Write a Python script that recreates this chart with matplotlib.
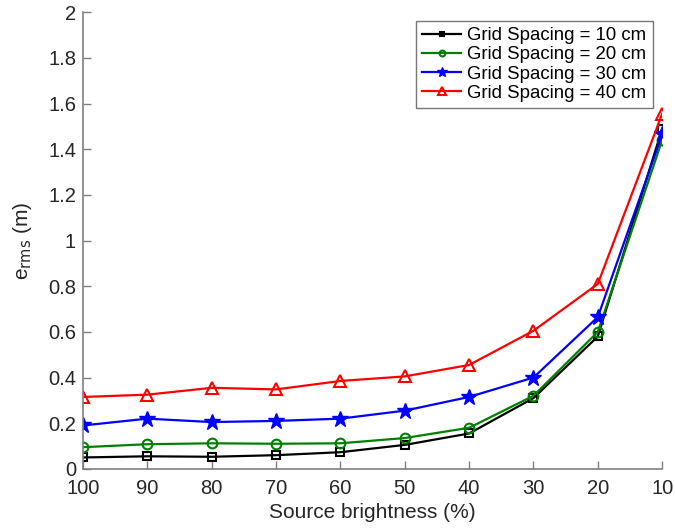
import numpy as np
import matplotlib.pyplot as plt
from matplotlib.ticker import FuncFormatter

plt.rcParams['font.family'] = ['Liberation Sans', 'DejaVu Sans']

# brightness levels (x axis runs from 100 down to 10)
brightness = [100, 90, 80, 70, 60, 50, 40, 30, 20, 10]

# rms error (m) per grid spacing
err_10cm = [0.050, 0.055, 0.053, 0.060, 0.073, 0.105, 0.155, 0.310, 0.580, 1.490]
err_20cm = [0.095, 0.108, 0.112, 0.110, 0.112, 0.135, 0.180, 0.320, 0.600, 1.440]
err_30cm = [0.190, 0.220, 0.205, 0.210, 0.220, 0.255, 0.315, 0.400, 0.665, 1.465]
err_40cm = [0.315, 0.325, 0.355, 0.348, 0.385, 0.405, 0.455, 0.605, 0.810, 1.555]

labels = ['Grid Spacing = 10 cm', 'Grid Spacing = 20 cm',
          'Grid Spacing = 30 cm', 'Grid Spacing = 40 cm']

fig = plt.figure(figsize=(6.75, 5.31), dpi=100)
ax = fig.add_axes([0.123, 0.117, 0.858, 0.860])

ax.plot(brightness, err_10cm, color='black', marker='s', ms=6, mfc='none', mew=1.5, lw=1.6, label=labels[0])
ax.plot(brightness, err_20cm, color='#008000', marker='o', ms=7, mfc='none', mew=1.5, lw=1.6, label=labels[1])
ax.plot(brightness, err_30cm, color='blue', marker='*', ms=12, lw=1.6, label=labels[2])
ax.plot(brightness, err_40cm, color='red', marker='^', ms=9, mfc='none', mew=1.5, lw=1.6, label=labels[3])

ax.set_xlim(100, 10)
ax.set_ylim(0, 2)
ax.set_xticks(brightness)
ax.set_yticks(np.arange(0, 2.01, 0.2))
ax.yaxis.set_major_formatter(FuncFormatter(lambda v, p: f'{v:g}'))

for s in ['top', 'right']:
    ax.spines[s].set_visible(False)
for s in ['left', 'bottom']:
    ax.spines[s].set_color('#808080')
    ax.spines[s].set_linewidth(1.2)
ax.tick_params(direction='in', length=6, colors='#808080', labelcolor='#262626', labelsize=14.5, width=1)
ax.tick_params(axis='x', pad=7)
ax.tick_params(axis='y', pad=5)

ax.set_xlabel('Source brightness (%)', fontsize=15, color='#262626', labelpad=4)
ax.set_ylabel(r'e$_{\mathrm{rms}}$ (m)', fontsize=15, color='#262626', labelpad=10)

leg = ax.legend(loc='upper right', bbox_to_anchor=(0.99, 0.99), fontsize=13.4,
                fancybox=False, edgecolor='#555555', handlelength=2.1, markerscale=0.6,
                borderpad=0.35, labelspacing=0.12, handletextpad=0.3, borderaxespad=0.2)
leg.get_frame().set_linewidth(1.0)

plt.savefig('out.png', dpi=100)
plt.close()
